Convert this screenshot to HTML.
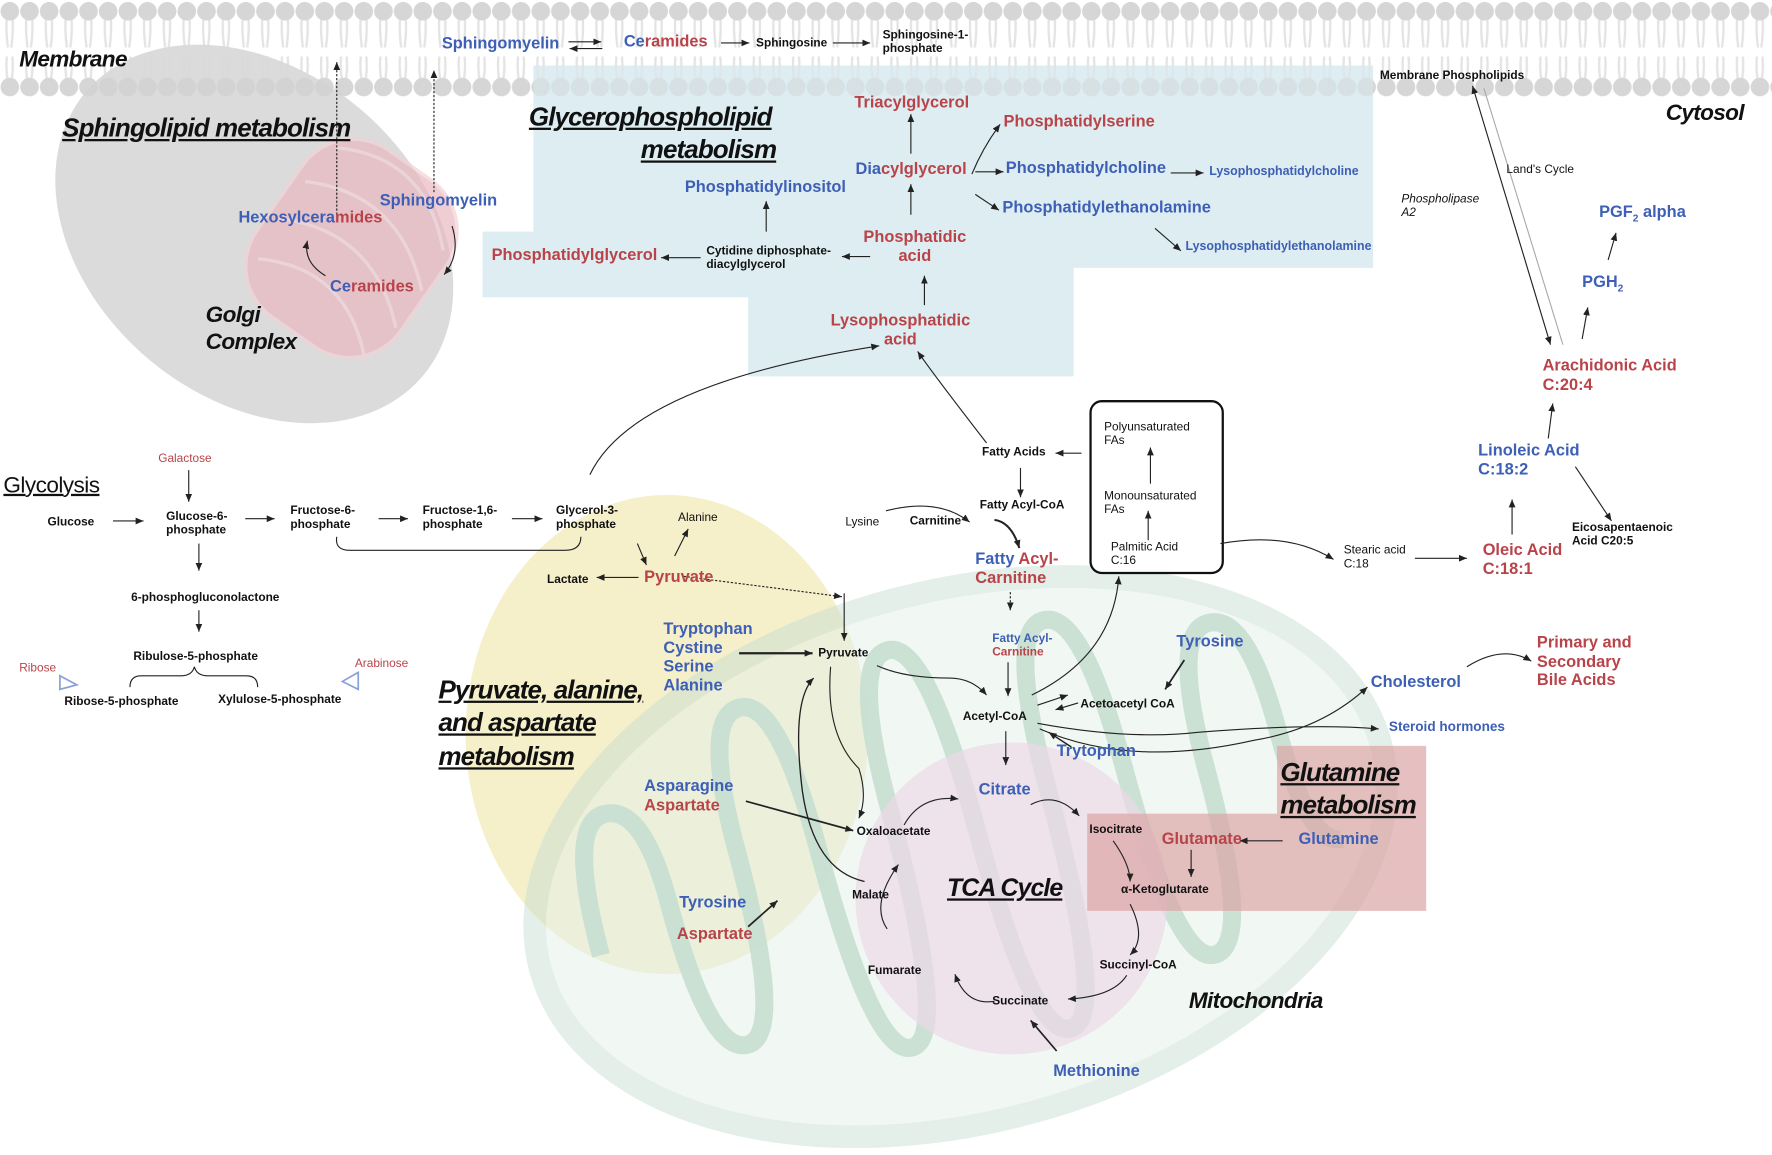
<!DOCTYPE html>
<html><head><meta charset="utf-8"><style>
html,body{margin:0;padding:0;background:#fff;width:1772px;height:1155px;overflow:hidden}
#w{position:absolute;left:0;top:0;width:1568px;height:1021px;transform:scale(1.13010);transform-origin:0 0;font-family:"Liberation Sans Narrow","Liberation Sans",sans-serif;overflow:hidden}
.t{position:absolute;white-space:nowrap;line-height:1.15}
.s{font-size:10.5px;font-weight:bold;color:#111}
.n{font-size:10.5px;color:#111}
.b{color:#3d5fb5;font-weight:bold;font-size:14.5px}
.r{color:#b8444a;font-weight:bold;font-size:14.5px}
.bl{color:#3d5fb5}.rd{color:#b8444a}
.h{font-style:italic;font-weight:bold;font-size:23px;text-decoration:underline;color:#111;letter-spacing:-0.8px}
.i{font-style:italic;font-weight:bold;font-size:20px;color:#111;letter-spacing:-0.6px}
svg{position:absolute;left:0;top:0}
</style></head><body><div id="w">
<svg width="1568" height="1021" viewBox="0 0 1568 1021">
<defs>
<pattern id="mem" width="17.4" height="90" patternUnits="userSpaceOnUse">
<path d="M6 14 Q5 28 7 42 M11 14 Q12 28 10 42 M6 50 Q5 62 7 72 M11 50 Q12 62 10 72" stroke="#e4e4e4" stroke-width="2" fill="none"/>
<circle cx="8.7" cy="10" r="8.2" fill="#d6d6d6"/><circle cx="8.7" cy="77" r="8.2" fill="#d6d6d6"/>
</pattern>
<marker id="a" markerWidth="8" markerHeight="8" refX="7" refY="4" orient="auto" markerUnits="userSpaceOnUse"><path d="M0,1 L7,4 L0,7 Z" fill="#222"/></marker>
<marker id="s" markerWidth="8" markerHeight="8" refX="0" refY="4" orient="auto" markerUnits="userSpaceOnUse"><path d="M7,1 L0,4 L7,7 Z" fill="#222"/></marker>
</defs>
<rect x="0" y="0" width="1568" height="88" fill="url(#mem)"/>
<ellipse cx="225" cy="207" rx="195" ry="145" transform="rotate(40 225 207)" fill="#cfcfcf" opacity="0.75"/>
<g transform="rotate(35 320 220)" fill="#e9b8c0" opacity="0.7" stroke="#f2d2d7" stroke-width="3">
<rect x="235" y="135" width="155" height="180" rx="55"/>
<path d="M250 160 Q320 120 380 180 M245 200 Q320 160 385 220 M245 240 Q320 200 385 260 M250 280 Q320 240 380 300" fill="none"/>
</g>
<path d="M472,58 H1215 V237 H950 V333 H662 V263 H427 V205 H472 Z" fill="#d7eaee" opacity="0.85"/>
<rect x="0" y="0" width="1568" height="88" fill="url(#mem)" opacity="0.35"/>
<ellipse cx="590" cy="650" rx="178" ry="212" fill="#f4edc4" opacity="0.9"/>
<g transform="rotate(-15 850 758)">
<ellipse cx="850" cy="758" rx="385" ry="235" fill="#e3efe8" opacity="0.5" stroke="#c7dfd1" stroke-width="20"/>
<path d="M520 760 Q520 640 555 640 Q590 640 590 730 Q590 870 625 870 Q660 870 660 700 Q660 580 695 580 Q730 580 730 720 Q730 910 765 910 Q800 910 800 700 Q800 565 835 565 Q870 565 870 740 Q870 930 905 930 Q940 930 940 720 Q940 575 975 575 Q1010 575 1010 720 Q1010 900 1045 900 Q1080 900 1080 740 Q1080 615 1115 615 Q1150 615 1150 720 Q1150 830 1180 830" fill="none" stroke="#c7dfd1" stroke-width="16" opacity="0.9"/>
</g>
<circle cx="895" cy="795" r="138" fill="#ecd9e8" opacity="0.7"/>
<path d="M1130,660 H1262 V806 H962 V720 H1130 Z" fill="#dca5a5" opacity="0.7"/>
<rect x="965" y="355" width="117" height="152" rx="10" fill="#fff" stroke="#111" stroke-width="2"/>
<g stroke="#222" stroke-width="1" fill="none" marker-end="url(#a)">
<path d="M298 190 V55" stroke-dasharray="2 1.5"/>
<path d="M384 170 V62" stroke-dasharray="2 1.5"/>
<path d="M503 37 H532"/><path d="M533 43 H504"/>
<path d="M638 38 H663"/><path d="M737 38 H770"/>
<path d="M400 200 Q408 225 393 243"/>
<path d="M288 244 Q268 232 272 213"/>
<path d="M806 136 V101"/><path d="M806 190 V163"/>
<path d="M860 154 Q870 130 885 110"/><path d="M863 152 H888"/><path d="M863 172 L884 186"/>
<path d="M1036 153 H1065"/><path d="M1022 202 L1045 222"/>
<path d="M678 205 V178"/><path d="M770 227 H745"/><path d="M620 228 H585"/>
<path d="M818 270 V244"/>
<path d="M522 420 Q560 340 778 306"/>
<path d="M873 392 Q825 330 812 311"/>
<path d="M903 414 V440"/><path d="M957 401 H934"/>
<path d="M784 452 Q830 440 858 462"/>
<path d="M880 460 Q895 462 902 485" stroke-width="1.8"/>
<path d="M894 524 V540" stroke-dasharray="2 1.5"/>
<path d="M892 586 V616"/>
<path d="M1018 428 V396"/>
<path d="M1016 478 V452"/>
<path d="M1080 481 Q1140 470 1180 495"/>
<path d="M1252 494 H1298"/><path d="M1338 473 V442"/>
<path d="M1370 388 L1374 357"/>
<path d="M1394 413 L1426 461"/>
<path d="M1400 300 L1405 272"/><path d="M1423 230 L1430 206"/>
<path d="M1372 305 L1303 76" marker-start="url(#s)"/><path d="M1313 78 L1383 305" stroke="#aaa" marker-end="none"/>
<path d="M1048 584 L1031 610" stroke-width="1.5"/>
<path d="M954 622 L934 628"/><path d="M918 624 L945 615"/>
<path d="M913 615 Q985 580 990 510"/>
<path d="M920 645 Q1000 680 1110 655 Q1170 645 1210 608"/>
<path d="M918 640 Q1000 655 1060 648 Q1160 640 1220 645"/>
<path d="M948 661 L928 648" stroke-width="1.3"/>
<path d="M1298 590 Q1330 570 1355 585"/>
<path d="M890 647 V677"/>
<path d="M912 712 Q935 700 955 722"/>
<path d="M985 744 Q1000 765 1000 780"/>
<path d="M1135 744 H1097"/>
<path d="M1054 752 V776"/>
<path d="M1000 800 Q1015 830 1000 845"/>
<path d="M997 863 Q985 882 945 884"/>
<path d="M880 886 Q855 890 845 862"/>
<path d="M785 822 Q770 800 795 765"/>
<path d="M800 730 Q815 703 848 707"/>
<path d="M935 930 L912 903" stroke-width="1.5"/>
<path d="M660 709 L755 735" stroke-width="1.5"/>
<path d="M662 820 L688 797" stroke-width="1.5"/>
<path d="M654 578 H719" stroke-width="2"/>
<path d="M765 780 Q720 770 710 700 Q700 620 720 600" stroke-width="1.2"/>
<path d="M735 590 Q730 650 760 680 Q768 705 760 724"/>
<path d="M776 589 Q800 600 840 600 Q860 600 873 615"/>
<path d="M747 525 V567"/>
<path d="M605 510 L745 528" stroke-dasharray="2 1.5"/>
<path d="M564 481 L572 500"/><path d="M597 492 L609 468"/>
<path d="M565 511 H528"/>
<path d="M298 475 Q296 487 310 487 H500 Q514 487 514 475" marker-end="none"/>
<path d="M100 461 H127"/><path d="M217 459 H243"/><path d="M335 459 H361"/><path d="M453 459 H480"/>
<path d="M167 416 V444"/><path d="M176 481 V505"/><path d="M176 540 V559"/>
<path d="M115 608 Q115 598 125 598 H160 Q170 598 172 590 Q174 598 184 598 H218 Q228 598 228 608" marker-end="none"/>
</g>
<path d="M53 598 L68 606 L53 610 Z" fill="none" stroke="#8aa0d8" stroke-width="1.5"/>
<path d="M317 595 L303 603 L317 610 Z" fill="none" stroke="#8aa0d8" stroke-width="1.5"/>
</svg>

<div class="t i" style="left:17px;top:42px">Membrane</div>
<div class="t b" style="left:391px;top:31px">Sphingomyelin</div>
<div class="t b" style="left:552px;top:29px">Ce<span class="rd">ramides</span></div>
<div class="t s" style="left:669px;top:32px">Sphingosine</div>
<div class="t s" style="left:781px;top:25px">Sphingosine-1-<br>phosphate</div>
<div class="t h" style="left:55px;top:100px">Sphingolipid metabolism</div>
<div class="t b" style="left:211px;top:185px">Hexosylcera<span class="rd">mides</span></div>
<div class="t b" style="left:336px;top:170px">Sphingomyelin</div>
<div class="t b" style="left:292px;top:246px">Ce<span class="rd">ramides</span></div>
<div class="t i" style="left:182px;top:267px;line-height:1.2">Golgi<br>Complex</div>
<div class="t h" style="left:468px;top:90px">Glycerophospholipid</div>
<div class="t h" style="left:567px;top:119px">metabolism</div>
<div class="t r" style="left:756px;top:83px">Triacylglycerol</div>
<div class="t r" style="left:888px;top:100px">Phosphatidylserine</div>
<div class="t b" style="left:757px;top:142px">Dia<span class="rd">cylglycerol</span></div>
<div class="t b" style="left:890px;top:141px">Phosphatidylcholine</div>
<div class="t b" style="left:1070px;top:146px;font-size:11px">Lysophosphatidylcholine</div>
<div class="t b" style="left:606px;top:158px">Phosphatidylinositol</div>
<div class="t b" style="left:887px;top:176px">Phosphatidylethanolamine</div>
<div class="t b" style="left:1049px;top:212px;font-size:11px">Lysophosphatidylethanolamine</div>
<div class="t r" style="left:764px;top:202px;text-align:center">Phosphatidic<br>acid</div>
<div class="t r" style="left:435px;top:218px">Phosphatidylglycerol</div>
<div class="t s" style="left:625px;top:216px">Cytidine diphosphate-<br>diacylglycerol</div>
<div class="t r" style="left:735px;top:276px;text-align:center">Lysophosphatidic<br>acid</div>
<div class="t s" style="left:1221px;top:61px">Membrane Phospholipids</div>
<div class="t i" style="left:1474px;top:89px">Cytosol</div>
<div class="t n" style="left:1333px;top:144px">Land's Cycle</div>
<div class="t n" style="left:1240px;top:170px;font-style:italic">Phospholipase<br>A2</div>
<div class="t b" style="left:1415px;top:180px">PGF<sub style="font-size:9px">2</sub> alpha</div>
<div class="t b" style="left:1400px;top:242px">PGH<sub style="font-size:9px">2</sub></div>
<div class="t r" style="left:1365px;top:316px">Arachidonic Acid<br>C:20:4</div>
<div class="t b" style="left:1308px;top:391px">Linoleic Acid<br>C:18:2</div>
<div class="t r" style="left:1312px;top:479px">Oleic Acid<br>C:18:1</div>
<div class="t s" style="left:1391px;top:461px">Eicosapentaenoic<br>Acid C20:5</div>
<div class="t n" style="left:1189px;top:481px">Stearic acid<br>C:18</div>
<div class="t n" style="left:977px;top:372px">Polyunsaturated<br>FAs</div>
<div class="t n" style="left:977px;top:433px">Monounsaturated<br>FAs</div>
<div class="t n" style="left:983px;top:478px">Palmitic Acid<br>C:16</div>
<div class="t s" style="left:869px;top:394px">Fatty Acids</div>
<div class="t s" style="left:867px;top:441px">Fatty Acyl-CoA</div>
<div class="t n" style="left:748px;top:456px">Lysine</div>
<div class="t s" style="left:805px;top:455px">Carnitine</div>
<div class="t r" style="left:863px;top:487px"><span class="bl">Fatty</span> Acyl-<br>Carnitine</div>
<div class="t r" style="left:878px;top:559px;font-size:10.5px"><span class="bl">Fatty Acyl-</span><br>Carnitine</div>
<div class="t s" style="left:852px;top:628px">Acetyl-CoA</div>
<div class="t s" style="left:956px;top:617px">Acetoacetyl CoA</div>
<div class="t b" style="left:1041px;top:560px">Tyrosine</div>
<div class="t b" style="left:935px;top:657px">Trytophan</div>
<div class="t b" style="left:866px;top:691px">Citrate</div>
<div class="t s" style="left:964px;top:728px">Isocitrate</div>
<div class="t r" style="left:1028px;top:735px">Glutamate</div>
<div class="t b" style="left:1149px;top:735px">Glutamine</div>
<div class="t h" style="left:1133px;top:669px;line-height:1.25">Glutamine<br>metabolism</div>
<div class="t s" style="left:992px;top:781px">α-Ketoglutarate</div>
<div class="t s" style="left:973px;top:848px">Succinyl-CoA</div>
<div class="t s" style="left:878px;top:880px">Succinate</div>
<div class="t s" style="left:768px;top:853px">Fumarate</div>
<div class="t s" style="left:754px;top:786px">Malate</div>
<div class="t s" style="left:758px;top:730px">Oxaloacetate</div>
<div class="t h" style="left:838px;top:773px;font-size:22px">TCA Cycle</div>
<div class="t i" style="left:1052px;top:875px">Mitochondria</div>
<div class="t b" style="left:932px;top:940px">Methionine</div>
<div class="t b" style="left:1213px;top:596px">Cholesterol</div>
<div class="t b" style="left:1229px;top:637px;font-size:12px">Steroid hormones</div>
<div class="t r" style="left:1360px;top:561px">Primary and<br>Secondary<br>Bile Acids</div>
<div class="t s" style="left:724px;top:572px">Pyruvate</div>
<div class="t b" style="left:587px;top:549px">Tryptophan<br>Cystine<br>Serine<br>Alanine</div>
<div class="t b" style="left:570px;top:688px">Asparagine<br><span class="rd">Aspartate</span></div>
<div class="t b" style="left:601px;top:791px">Tyrosine</div>
<div class="t r" style="left:599px;top:819px">Aspartate</div>
<div class="t h" style="left:388px;top:596px;line-height:1.28">Pyruvate, alanine,<br>and aspartate<br>metabolism</div>
<div class="t" style="left:3px;top:419px;font-size:20px;text-decoration:underline;color:#111;letter-spacing:-0.5px">Glycolysis</div>
<div class="t rd" style="left:140px;top:400px;font-size:10.5px">Galactose</div>
<div class="t s" style="left:42px;top:456px">Glucose</div>
<div class="t s" style="left:147px;top:451px">Glucose-6-<br>phosphate</div>
<div class="t s" style="left:257px;top:446px">Fructose-6-<br>phosphate</div>
<div class="t s" style="left:374px;top:446px">Fructose-1,6-<br>phosphate</div>
<div class="t s" style="left:492px;top:446px">Glycerol-3-<br>phosphate</div>
<div class="t n" style="left:600px;top:452px">Alanine</div>
<div class="t r" style="left:570px;top:503px">Pyruvate</div>
<div class="t s" style="left:484px;top:507px">Lactate</div>
<div class="t s" style="left:116px;top:523px">6-phosphogluconolactone</div>
<div class="t s" style="left:118px;top:575px">Ribulose-5-phosphate</div>
<div class="t rd" style="left:17px;top:585px;font-size:10.5px">Ribose</div>
<div class="t rd" style="left:314px;top:581px;font-size:10.5px">Arabinose</div>
<div class="t s" style="left:57px;top:615px">Ribose-5-phosphate</div>
<div class="t s" style="left:193px;top:613px">Xylulose-5-phosphate</div>
</div></body></html>
